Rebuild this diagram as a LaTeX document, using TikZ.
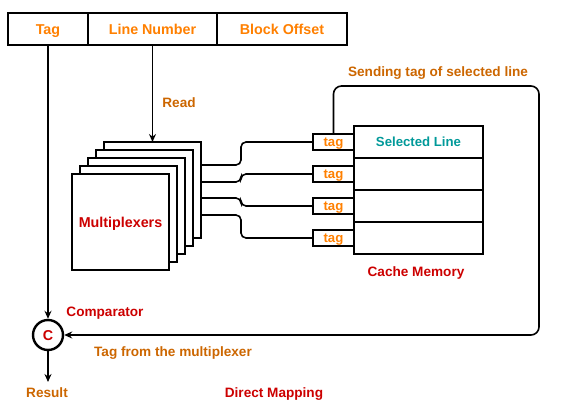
\documentclass[tikz,border=0pt]{standalone}
\usepackage{fontspec}
\setmainfont{Liberation Sans}
\usetikzlibrary{arrows.meta,calc}
\definecolor{orng}{HTML}{FF8000}
\definecolor{dorng}{HTML}{CC6600}
\definecolor{rd}{HTML}{CC0000}
\definecolor{tl}{HTML}{009999}
\begin{document}
\begin{tikzpicture}[x=1pt,y=-1pt,
  box/.style={draw, line width=1.6pt, fill=white, inner sep=0pt, outer sep=0pt},
  big/.style={font=\fontsize{14.3}{17}\selectfont\bfseries, inner sep=0pt, text height=10.3pt, text depth=0pt},
  lbl/.style={font=\fontsize{13.6}{16}\selectfont\bfseries, inner sep=0pt, text height=9.8pt, text depth=0pt},
  small/.style={font=\fontsize{13.2}{16}\selectfont\bfseries, inner sep=0pt, text height=9.5pt, text depth=0pt},
  wire/.style={line width=1.6pt},
  arr/.style={line width=1.6pt, -{Stealth[length=8pt,width=7pt]}}]
\useasboundingbox (0,0) rectangle (565,420);

% address fields
\node[box, big, text=orng, minimum width=80pt, minimum height=32pt, anchor=north west] (tagf) at (8,13) {Tag};
\node[box, big, text=orng, minimum width=129pt, minimum height=32pt, anchor=north west] (lnf) at (88,13) {Line Number};
\node[box, big, text=orng, minimum width=130pt, minimum height=32pt, anchor=north west] (bof) at (217,13) {Block Offset};

% multiplexer stack
\node[box, minimum width=97pt, minimum height=96pt, anchor=north west] (muxb) at (104,142) {};
\node[box, minimum width=97pt, minimum height=96pt, anchor=north west] (mux3) at (96,150) {};
\node[box, minimum width=97pt, minimum height=96pt, anchor=north west] (mux2) at (88,158) {};
\node[box, minimum width=97pt, minimum height=96pt, anchor=north west] (mux1) at (80,166) {};
\node[box, big, text=rd, minimum width=97pt, minimum height=96pt, anchor=north west] (mux) at (72,174) {Multiplexers};

\draw[arr] (lnf.south) -- (muxb.north);
\node[lbl, text=dorng] (read) at (179,103) {Read};

% cache memory
\node[box, minimum width=129pt, minimum height=32pt, anchor=north west, small, text=tl] (r1) at (354,126) {Selected Line};
\node[box, minimum width=129pt, minimum height=32pt, anchor=north west] (r2) at (354,158) {};
\node[box, minimum width=129pt, minimum height=32pt, anchor=north west] (r3) at (354,190) {};
\node[box, minimum width=129pt, minimum height=32pt, anchor=north west] (r4) at (354,222) {};
\node[lbl, text=rd] (cm) at (416,272) {Cache Memory};

\foreach \i in {1,...,4}{
  \node[box, small, text=orng, minimum width=41pt, minimum height=16pt, anchor=east] (t\i) at (r\i.west) {tag};
}

% wires from multiplexers to tags
\coordinate (bend) at (241,0);
\coordinate (s1) at ($(muxb.north east)+(0,23)$);
\coordinate (s2) at ($(muxb.north east)+(0,40)$);
\coordinate (s3) at ($(muxb.north east)+(0,56)$);
\coordinate (s4) at ($(muxb.north east)+(0,73)$);
\foreach \i in {1,...,4}{
  \draw[wire, rounded corners=5pt] (s\i) -- (s\i -| bend) -- (t\i.west -| bend) -- (t\i.west);
}

% comparator
\node[draw, circle, line width=2.4pt, minimum size=30pt, inner sep=0pt, big, text=rd, fill=white] (comp) at (48,335) {C};
\draw[arr] (tagf.south) -- (comp.north);
\coordinate (resend) at (48,382);
\draw[arr] (comp.south) -- (resend);

% feedback loop
\coordinate (loopne) at (539,86);
\draw[arr, rounded corners=8pt] (t1.north) |- (loopne) |- (comp.east);
\node[lbl, text=dorng] (send) at (438,71.5) {Sending tag of selected line};

\node[lbl, text=dorng] (res) at (47,393) {Result};
\node[lbl, text=rd] (compl) at (105,312) {Comparator};
\node[lbl, text=dorng] (tfm) at (173,352) {Tag from the multiplexer};
\node[lbl, text=rd] (dm) at (274,393) {Direct Mapping};
\end{tikzpicture}
\end{document}
